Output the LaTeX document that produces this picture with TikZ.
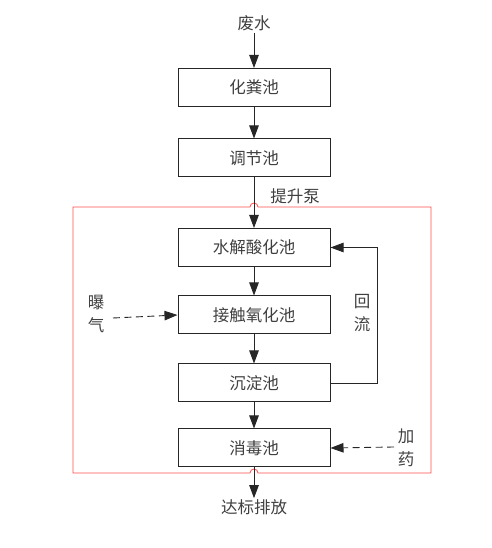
\documentclass[tikz,border=0pt]{standalone}
\usepackage{fontspec}
\newfontfamily\cjk{Noto Sans CJK SC}
\usetikzlibrary{arrows.meta}
\begin{document}
\begin{tikzpicture}[x=1pt,y=1pt,
  txt/.style={font=\cjk\fontsize{16.5}{23}\selectfont, text=black!75, inner sep=2pt},
  pool/.style={txt, draw=black!85, line width=1pt, minimum width=152pt, minimum height=38pt},
  arr/.style={draw=black!85, line width=0.9pt, -{Triangle[length=13pt,width=9.5pt]}},
  darr/.style={arr, dash pattern=on 7pt off 4.5pt}]
\useasboundingbox (0,0) rectangle (491,548);
\node[txt] (fs) at (254,525) {废水};
\node[pool] (hf) at (254,460.5) {化粪池};
\node[pool] (tj) at (254,390) {调节池};
\node[txt] (tsb) at (295,352) {提升泵};
\node[pool] (sj) at (254,300.5) {水解酸化池};
\node[pool] (jc) at (254,233) {接触氧化池};
\node[pool] (cd) at (254,165) {沉淀池};
\node[pool] (xd) at (254,100) {消毒池};
\node[txt, inner sep=1pt] (db) at (254,41) {达标排放};
\node[txt, align=center] (pq) at (96,234) {曝\\气};
\node[txt, align=center] (hl) at (362,235) {回\\流};
\node[txt, align=center] (jy) at (406,100) {加\\药};
\coordinate (pqs) at (113,230);
\coordinate (jys) at (394,101);
\draw[red!70, line width=0.8pt] (73,341) -- (250,341) arc (180:0:4pt) -- (431,341) -- (431,75) -- (258,75) arc (0:180:4pt) -- (73,75) -- cycle;
\draw[arr] (fs.south) -- (hf.north);
\draw[arr] (hf) -- (tj);
\draw[arr] (tj) -- (sj);
\draw[arr] (sj) -- (jc);
\draw[arr] (jc) -- (cd);
\draw[arr] (cd) -- (xd);
\draw[arr] (xd) -- (db.north);
\draw[arr] (cd.east) -- (377,165) |- (sj.east);
\draw[darr] (pqs) -- (jc.west);
\draw[darr] (jys) -- (xd.east);
\end{tikzpicture}
\end{document}
